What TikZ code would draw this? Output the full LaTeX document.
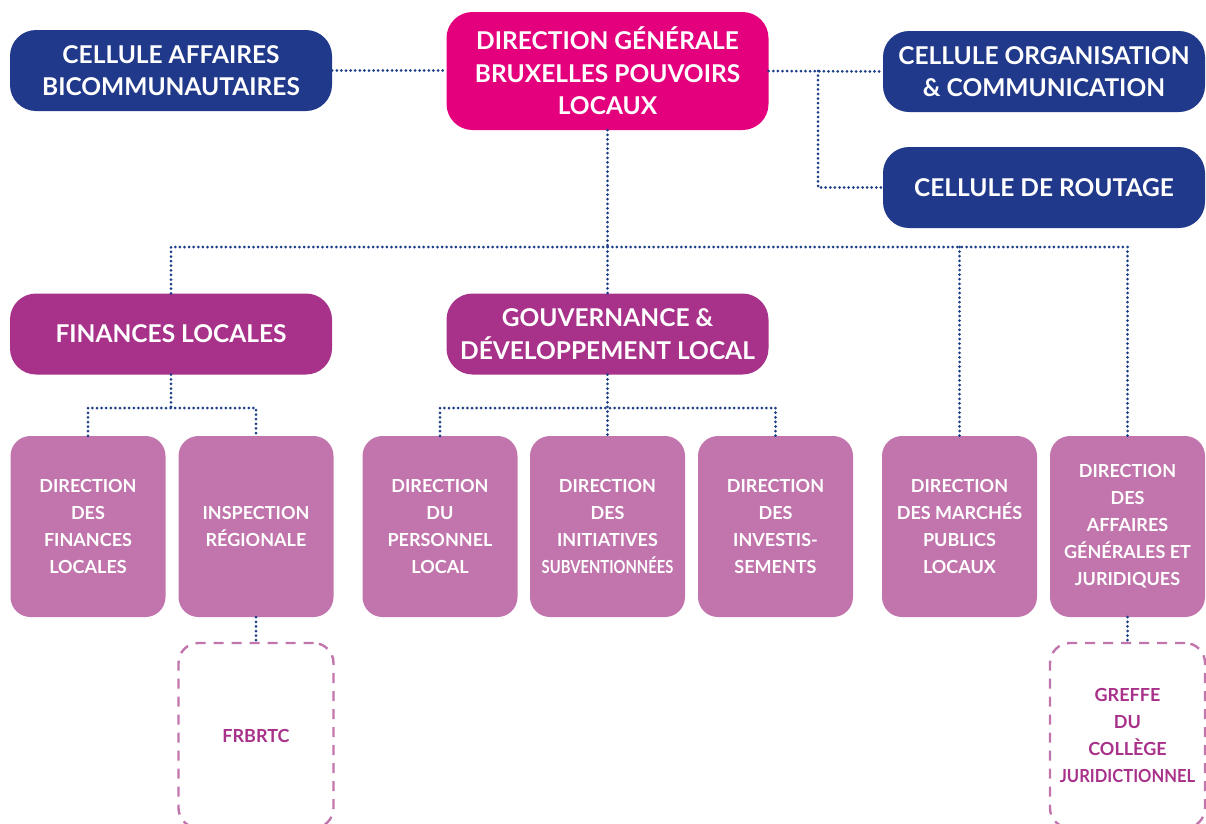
\documentclass[tikz,border=0pt]{standalone}
\usepackage{fontspec}
\setmainfont{Lato}
\usetikzlibrary{positioning}

\definecolor{cellblue}{RGB}{33,57,139}
\definecolor{dgpink}{RGB}{228,0,125}
\definecolor{dirplum}{RGB}{168,49,138}
\definecolor{svcmauve}{RGB}{193,117,172}
\definecolor{linkblue}{RGB}{28,62,135}

\tikzset{
  topbox/.style={rounded corners=26pt, minimum width=322pt, minimum height=81pt,
    inner sep=0pt, align=center, text=white,
    font=\fontsize{24.5}{32.5}\selectfont\bfseries},
  cellbox/.style={topbox, fill=cellblue},
  dgbox/.style={topbox, fill=dgpink, minimum height=118pt},
  plumbox/.style={topbox, fill=dirplum},
  svcbox/.style={rounded corners=20pt, minimum width=155pt, minimum height=181pt,
    inner sep=0pt, align=center, text=white, fill=svcmauve,
    font=\fontsize{18}{27}\selectfont\bfseries},
  extbox/.style={svcbox, fill=none, text=dirplum, draw=svcmauve, line width=2.4pt,
    dash pattern=on 10pt off 8pt, minimum height=185pt},
  link/.style={draw=linkblue, line width=3pt, line cap=round,
    dash pattern=on 0pt off 4.6pt}
}

\begin{document}
\begin{tikzpicture}[x=1pt,y=-1pt]
\useasboundingbox (0,0) rectangle (1206,823);
% top level
\node[cellbox] (bicom) at (171,70.5) {CELLULE AFFAIRES\\BICOMMUNAUTAIRES};
\node[dgbox] (dg) at (607.5,71) {DIRECTION GÉNÉRALE\\BRUXELLES POUVOIRS\\LOCAUX};
\node[cellbox] (orga) at (1044,71.5) {CELLULE ORGANISATION\\\& COMMUNICATION};
\node[cellbox] (routage) at (1044,187.5) {CELLULE DE ROUTAGE};
% departments
\node[plumbox] (fin) at (171,334) {FINANCES LOCALES};
\node[plumbox] (gouv) at (607.5,334) {GOUVERNANCE \&\\DÉVELOPPEMENT LOCAL};
% directions
\node[svcbox] (dfin) at (88,526.5) {DIRECTION\\DES\\FINANCES\\LOCALES};
\node[svcbox] (insp) at (256,526.5) {INSPECTION\\RÉGIONALE};
\node[svcbox] (dpers) at (440,526.5) {DIRECTION\\DU\\PERSONNEL\\LOCAL};
\node[svcbox] (dinit) at (607.5,526.5) {DIRECTION\\DES\\INITIATIVES\\\scalebox{0.82}[1]{SUBVENTIONNÉES}};
\node[svcbox] (dinv) at (775.5,526.5) {DIRECTION\\DES\\INVESTIS-\\SEMENTS};
\node[svcbox] (dmarch) at (959.5,526.5) {DIRECTION\\DES MARCHÉS\\PUBLICS\\LOCAUX};
\node[svcbox] (dagj) at (1127.5,526.5) {DIRECTION\\DES\\AFFAIRES\\GÉNÉRALES ET\\JURIDIQUES};
% outside bodies
\node[extbox] (frbrtc) at (256,735.5) {FRBRTC};
\node[extbox] (greffe) at (1127.5,735.5) {GREFFE\\DU\\COLLÈGE\\\scalebox{0.92}[1]{JURIDICTIONNEL}};

% connectors
\coordinate (split) at (818,71);
\coordinate (spine) at (607.5,247);
\coordinate (finbar) at (171,408);
\coordinate (gouvbar) at (607.5,408);
\draw[link] (bicom.east) -- (bicom.east -| dg.west);
\draw[link] (dg.east) -- (orga.west);
\draw[link] (split) |- (routage.west);
\draw[link] (dg.south) -- (spine);
\draw[link] (fin.north) |- (spine) -| (dagj.north);
\draw[link] (spine) -- (gouv.north);
\draw[link] (spine -| dmarch.north) -- (dmarch.north);
\draw[link] (fin.south) -- (finbar);
\draw[link] (dfin.north) |- (finbar) -| (insp.north);
\draw[link] (gouv.south) -- (dinit.north);
\draw[link] (dpers.north) |- (gouvbar) -| (dinv.north);
\draw[link] (insp.south) -- (frbrtc.north);
\draw[link] (dagj.south) -- (greffe.north);
\end{tikzpicture}
\end{document}
